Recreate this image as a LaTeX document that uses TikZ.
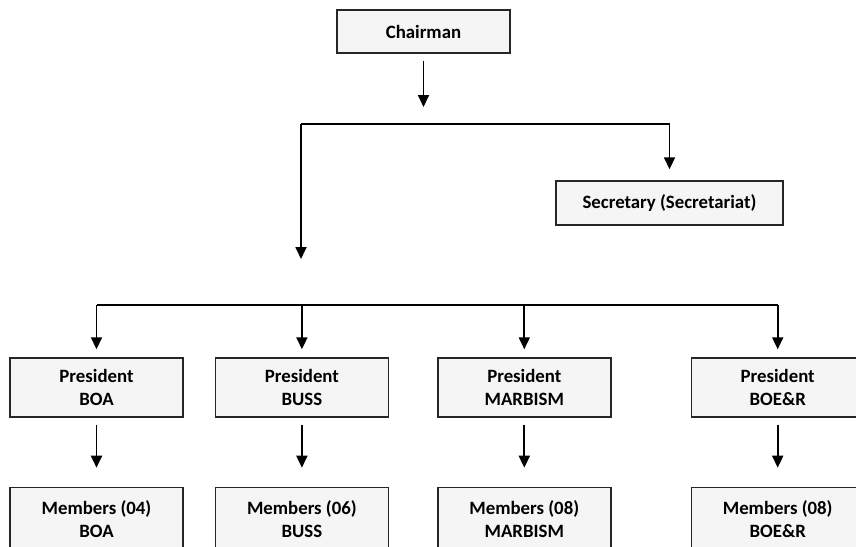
\documentclass[tikz,border=0pt]{standalone}
\usepackage{fontspec}
\setmainfont{Carlito}
\usepackage{tikz}
\usetikzlibrary{positioning,arrows.meta}
\tikzset{box node/.style={rectangle,fill=gray!8,draw=black!85,line width=1.4pt,minimum width=173pt,minimum height=59pt,inner sep=0pt,align=center,font=\fontsize{18.8}{23}\selectfont\bfseries},}
\tikzset{small box/.style={box node,minimum height=43pt},}
\tikzset{wide box/.style={box node,minimum width=227pt,minimum height=44pt},}
\tikzset{low box/.style={box node,minimum height=64pt},}
\tikzset{link/.style={line width=1.8pt,-{Triangle[width=11pt,length=12pt]}},}
\tikzset{bus/.style={line width=1.6pt},}

\begin{document}
\begin{tikzpicture}[x=1pt,y=1pt]
       \useasboundingbox (0,0) rectangle (856,-546);
       \node[small box] (1) at (423.5,-31.5) {Chairman};
       \node[wide box] (2) at (669.5,-203) {Secretary (Secretariat)};

       \node[box node] (3) at (96.5,-387.5) {President\\BOA};
       \node[box node] (4) [right = 31pt of 3] {President\\BUSS};
       \node[box node] (5) [right = 48pt of 4] {President\\MARBISM};
       \node[box node] (6) [right = 79pt of 5] {President\\BOE\&R};

       \node[low box] (7) [below = 69pt of 3] {Members (04)\\BOA};
       \node[low box] (8) [below = 69pt of 4] {Members (06)\\BUSS};
       \node[low box] (9) [below = 69pt of 5] {Members (08)\\MARBISM};
       \node[low box] (10) [below = 69pt of 6] {Members (08)\\BOE\&R};

       \coordinate (a) at (301,-124);
       \coordinate (b) at (2.north |- a);
       \coordinate (c) at (301,-259);
       \coordinate (d) at (3.north |- 0,-305);
       \coordinate (e) at (6.north |- d);

       \draw[bus]
       (a) -- (b)
       (d) -- (e);
       \draw[link,shorten <=7pt] (1) -- (1.south |- 0,-107);
       \draw[link,shorten >=11pt] (b) -- (2);
       \draw[link] (a) -- (c);
       \foreach \p in {3,4,5,6}
         \draw[link,shorten >=8pt] (\p.north |- d) -- (\p);
       \foreach \p/\m in {3/7,4/8,5/9,6/10}
         \draw[link,shorten <=7pt,shorten >=19pt] (\p) -- (\m);
    \end{tikzpicture}
\end{document}
